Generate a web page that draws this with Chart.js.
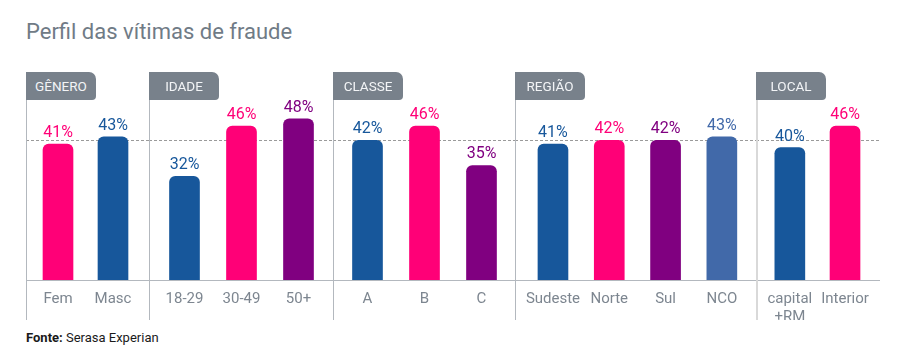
<!DOCTYPE html>
<html>
<head>
<meta charset="utf-8">
<script src="https://cdn.jsdelivr.net/npm/chart.js@4.4.1/dist/chart.umd.min.js"></script>
<style>
  body { margin: 0; background: #fff; font-family: Roboto, sans-serif; }
  #wrap { position: relative; width: 904px; height: 364px; overflow: hidden; }
  #title { position: absolute; left: 26px; top: 19px; font-size: 22px; line-height: 26px; color: #707b86; }
  .panel { position: absolute; top: 72px; height: 248px; }
  .panel canvas { position: absolute; left: 0; top: 0; }
  .sep { position: absolute; left: 0; top: 0; height: 248px; z-index: 2; }
  .head { position: absolute; left: 0; top: 0; width: 70px; height: 28px; line-height: 28px; background: #78818b;
          color: #f3f5f7; font-size: 13.5px; text-align: center; border-radius: 0 7px 4px 0; z-index: 3; }
  #fonte { position: absolute; left: 26px; top: 330px; font-size: 13px; color: #1a1a1a; }
</style>
</head>
<body>
<div id="wrap">
  <div id="title">Perfil das vítimas de fraude</div>
  <div id="fonte"><b>Fonte:</b> Serasa Experian</div>
</div>
<script>
const groupTitles = ['GÊNERO', 'IDADE', 'CLASSE', 'REGIÃO', 'LOCAL'];

const generoLabels = ['Fem', 'Masc'];
const generoValues = [41, 43];

const idadeLabels = ['18-29', '30-49', '50+'];
const idadeValues = [32, 46, 48];

const classeLabels = ['A', 'B', 'C'];
const classeValues = [42, 46, 35];

const regiaoLabels = ['Sudeste', 'Norte', 'Sul', 'NCO'];
const regiaoValues = [41, 42, 42, 43];

const localLabels = [['capital', '+RM'], 'Interior'];
const localValues = [40, 46];

const referenceLine = 42; // dashed line

const PINK = '#ff0077', BLUE = '#17579b', PURPLE = '#800080', NCO = '#4169a9';

// layout for each panel (page position + padding so bars land where they should)
const panels = [
  { labels: generoLabels, values: generoValues, colors: [PINK, BLUE], left: 26, width: 123, padL: 4.5, padR: 8.5, sepW: 1, sepC: '#b3b8be' },
  { labels: idadeLabels, values: idadeValues, colors: [BLUE, PINK, PURPLE], left: 149, width: 184, padL: 7, padR: 6, sepW: 1, sepC: '#b3b8be' },
  { labels: classeLabels, values: classeValues, colors: [BLUE, PINK, PURPLE], left: 333, width: 182, padL: 6, padR: 5, sepW: 1, sepC: '#b3b8be' },
  { labels: regiaoLabels, values: regiaoValues, colors: [BLUE, PINK, PURPLE, NCO], left: 515, width: 241, padL: 7, padR: 6, sepW: 1, sepC: '#b3b8be' },
  { labels: localLabels, values: localValues, colors: [BLUE, PINK], left: 756, width: 124, padL: 6.25, padR: 4.75, sepW: 2, sepC: '#d9d9d9' }
];

// baseline + dashed reference line across the whole panel
const linesPlugin = {
  id: 'lines',
  beforeDatasetsDraw(chart) {
    const ctx = chart.ctx, y = chart.scales.y;
    const w = chart.width;
    ctx.save();
    ctx.strokeStyle = '#9a9a9a';
    ctx.lineWidth = 1;
    ctx.setLineDash([3, 2]);
    const yr = Math.round(y.getPixelForValue(referenceLine)) + 0.5;
    ctx.beginPath(); ctx.moveTo(0, yr); ctx.lineTo(w, yr); ctx.stroke();
    ctx.setLineDash([]);
    ctx.strokeStyle = '#b3b8be';
    const yb = Math.round(chart.chartArea.bottom) + 0.5;
    ctx.beginPath(); ctx.moveTo(0, yb); ctx.lineTo(w, yb); ctx.stroke();
    ctx.restore();
  }
};

const valueLabels = {
  id: 'valueLabels',
  afterDatasetsDraw(chart) {
    const ctx = chart.ctx;
    const ds = chart.data.datasets[0];
    ctx.save();
    ctx.font = '16px Roboto';
    ctx.textAlign = 'center';
    ctx.textBaseline = 'alphabetic';
    chart.getDatasetMeta(0).data.forEach((bar, i) => {
      ctx.fillStyle = ds.backgroundColor[i];
      ctx.fillText(ds.data[i] + '%', bar.x, bar.y - 7);
    });
    ctx.restore();
  }
};

const wrap = document.getElementById('wrap');
panels.forEach((p, k) => {
  const div = document.createElement('div');
  div.className = 'panel';
  div.style.left = p.left + 'px';
  div.style.width = p.width + 'px';
  const canvas = document.createElement('canvas');
  canvas.width = p.width;
  canvas.height = 248;
  div.appendChild(canvas);
  const sep = document.createElement('div');
  sep.className = 'sep';
  sep.style.width = p.sepW + 'px';
  sep.style.background = p.sepC;
  div.appendChild(sep);
  const head = document.createElement('div');
  head.className = 'head';
  head.textContent = groupTitles[k];
  div.appendChild(head);
  wrap.appendChild(div);

  new Chart(canvas.getContext('2d'), {
    type: 'bar',
    data: {
      labels: p.labels,
      datasets: [{
        data: p.values,
        backgroundColor: p.colors,
        barThickness: 30,
        borderRadius: 6,
        borderSkipped: 'bottom'
      }]
    },
    options: {
      responsive: false,
      animation: false,
      devicePixelRatio: 1,
      layout: { padding: { top: 4, left: p.padL, right: p.padR, bottom: 0 } },
      plugins: { legend: { display: false }, tooltip: { enabled: false } },
      scales: {
        x: {
          grid: { display: false, drawTicks: false },
          border: { display: false },
          ticks: { color: '#7d8690', font: { family: 'Roboto', size: 15 }, padding: 10, maxRotation: 0, autoSkip: false },
          afterFit(s) { s.height = 40; }
        },
        y: { display: false, min: 3, max: 60 }
      }
    },
    plugins: [linesPlugin, valueLabels]
  });
});
</script>
</body>
</html>
